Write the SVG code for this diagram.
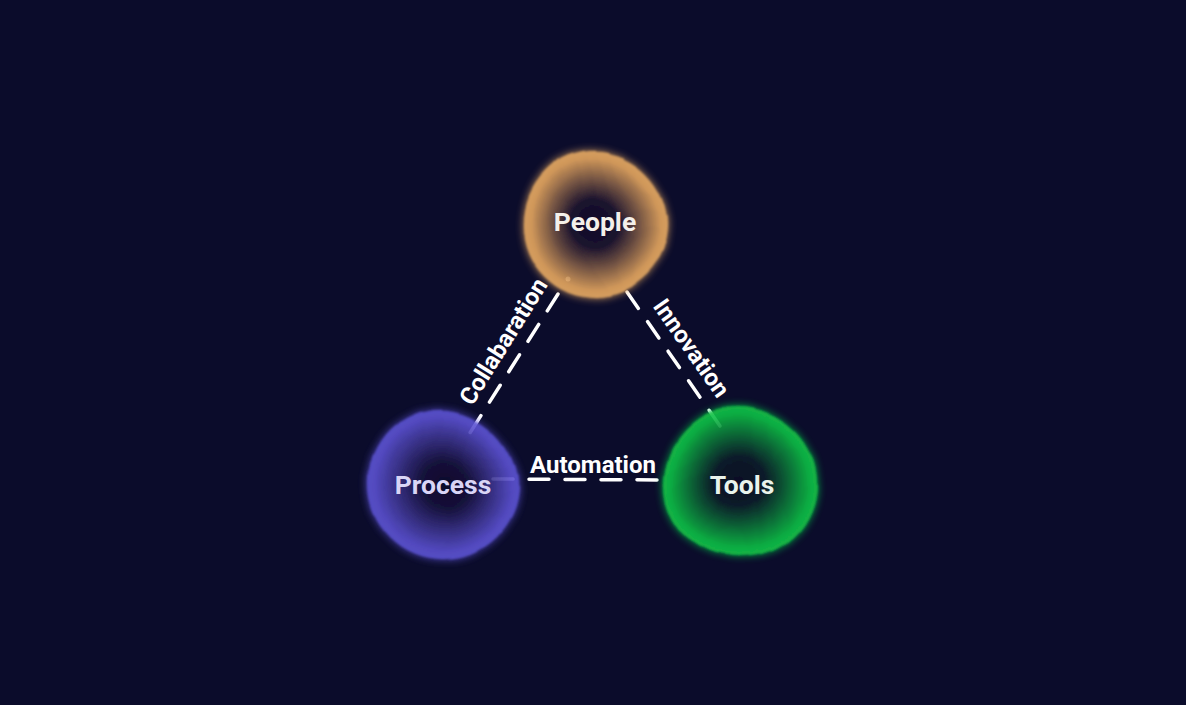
<svg xmlns="http://www.w3.org/2000/svg" width="1186" height="705" viewBox="0 0 1186 705">
<defs>
<style>
.lbl{font-family:Roboto,"Liberation Sans",sans-serif;font-weight:700;font-size:24px;fill:#ffffff;text-anchor:middle}
.ntx{font-family:Roboto,"Liberation Sans",sans-serif;font-weight:700;font-size:26.5px;text-anchor:middle}
.ln{fill:none;stroke:#ffffff;stroke-width:3.5;stroke-linecap:round;stroke-dasharray:20 16}
</style>
<radialGradient id="gP" cx="0.5" cy="0.5" r="0.5">
<stop offset="0" stop-color="#120d2a"/><stop offset="0.32" stop-color="#1c132e"/><stop offset="0.9" stop-color="#e6a75f"/><stop offset="1" stop-color="#ebae66"/>
</radialGradient>
<radialGradient id="gR" cx="0.5" cy="0.5" r="0.5">
<stop offset="0" stop-color="#0e0c2a"/><stop offset="0.32" stop-color="#17123c"/><stop offset="0.9" stop-color="#5a50cf"/><stop offset="1" stop-color="#5e55d6"/>
</radialGradient>
<radialGradient id="gT" cx="0.5" cy="0.5" r="0.5">
<stop offset="0" stop-color="#0b0f26"/><stop offset="0.32" stop-color="#0d1c29"/><stop offset="0.9" stop-color="#10bf45"/><stop offset="1" stop-color="#13c649"/>
</radialGradient>
<filter id="blob" x="-30%" y="-30%" width="160%" height="160%">
<feTurbulence type="fractalNoise" baseFrequency="0.009" numOctaves="1" seed="4" result="n"/>
<feDisplacementMap in="SourceGraphic" in2="n" scale="16" xChannelSelector="R" yChannelSelector="G" result="d0"/>
<feGaussianBlur in="d0" stdDeviation="1.2" result="d"/>
<feGaussianBlur in="d0" stdDeviation="4" result="g"/>
<feMerge><feMergeNode in="g"/><feMergeNode in="d"/></feMerge>
</filter>
</defs>
<rect width="1186" height="705" fill="#0b0c2b"/>
<g id="connectors">
<line class="ln" x1="558" y1="294" x2="468" y2="436"/>
<circle cx="568" cy="279" r="2.5" fill="#ffffff"/>
<line class="ln" x1="627" y1="292" x2="720" y2="426"/>
<line class="ln" x1="493" y1="479" x2="661" y2="480"/>
<text class="lbl" transform="translate(506,343) rotate(-58)" y="5">Collabaration</text>
<text class="lbl" transform="translate(689,350) rotate(55)" y="5">Innovation</text>
<text class="lbl" x="593" y="473">Automation</text>
</g>
<g id="people">
<circle cx="595" cy="224" r="73" fill="url(#gP)" opacity="0.9" filter="url(#blob)"/>
<text class="ntx" x="595" y="231" fill="#f4f0ea">People</text>
</g>
<g id="process">
<circle cx="443" cy="485" r="74" fill="url(#gR)" opacity="0.9" filter="url(#blob)"/>
<text class="ntx" x="443" y="494" fill="#d9d5f6">Process</text>
</g>
<g id="tools">
<circle cx="741" cy="483" r="75" fill="url(#gT)" opacity="0.9" filter="url(#blob)"/>
<text class="ntx" x="742" y="494" fill="#eaf3ec">Tools</text>
</g>
</svg>
